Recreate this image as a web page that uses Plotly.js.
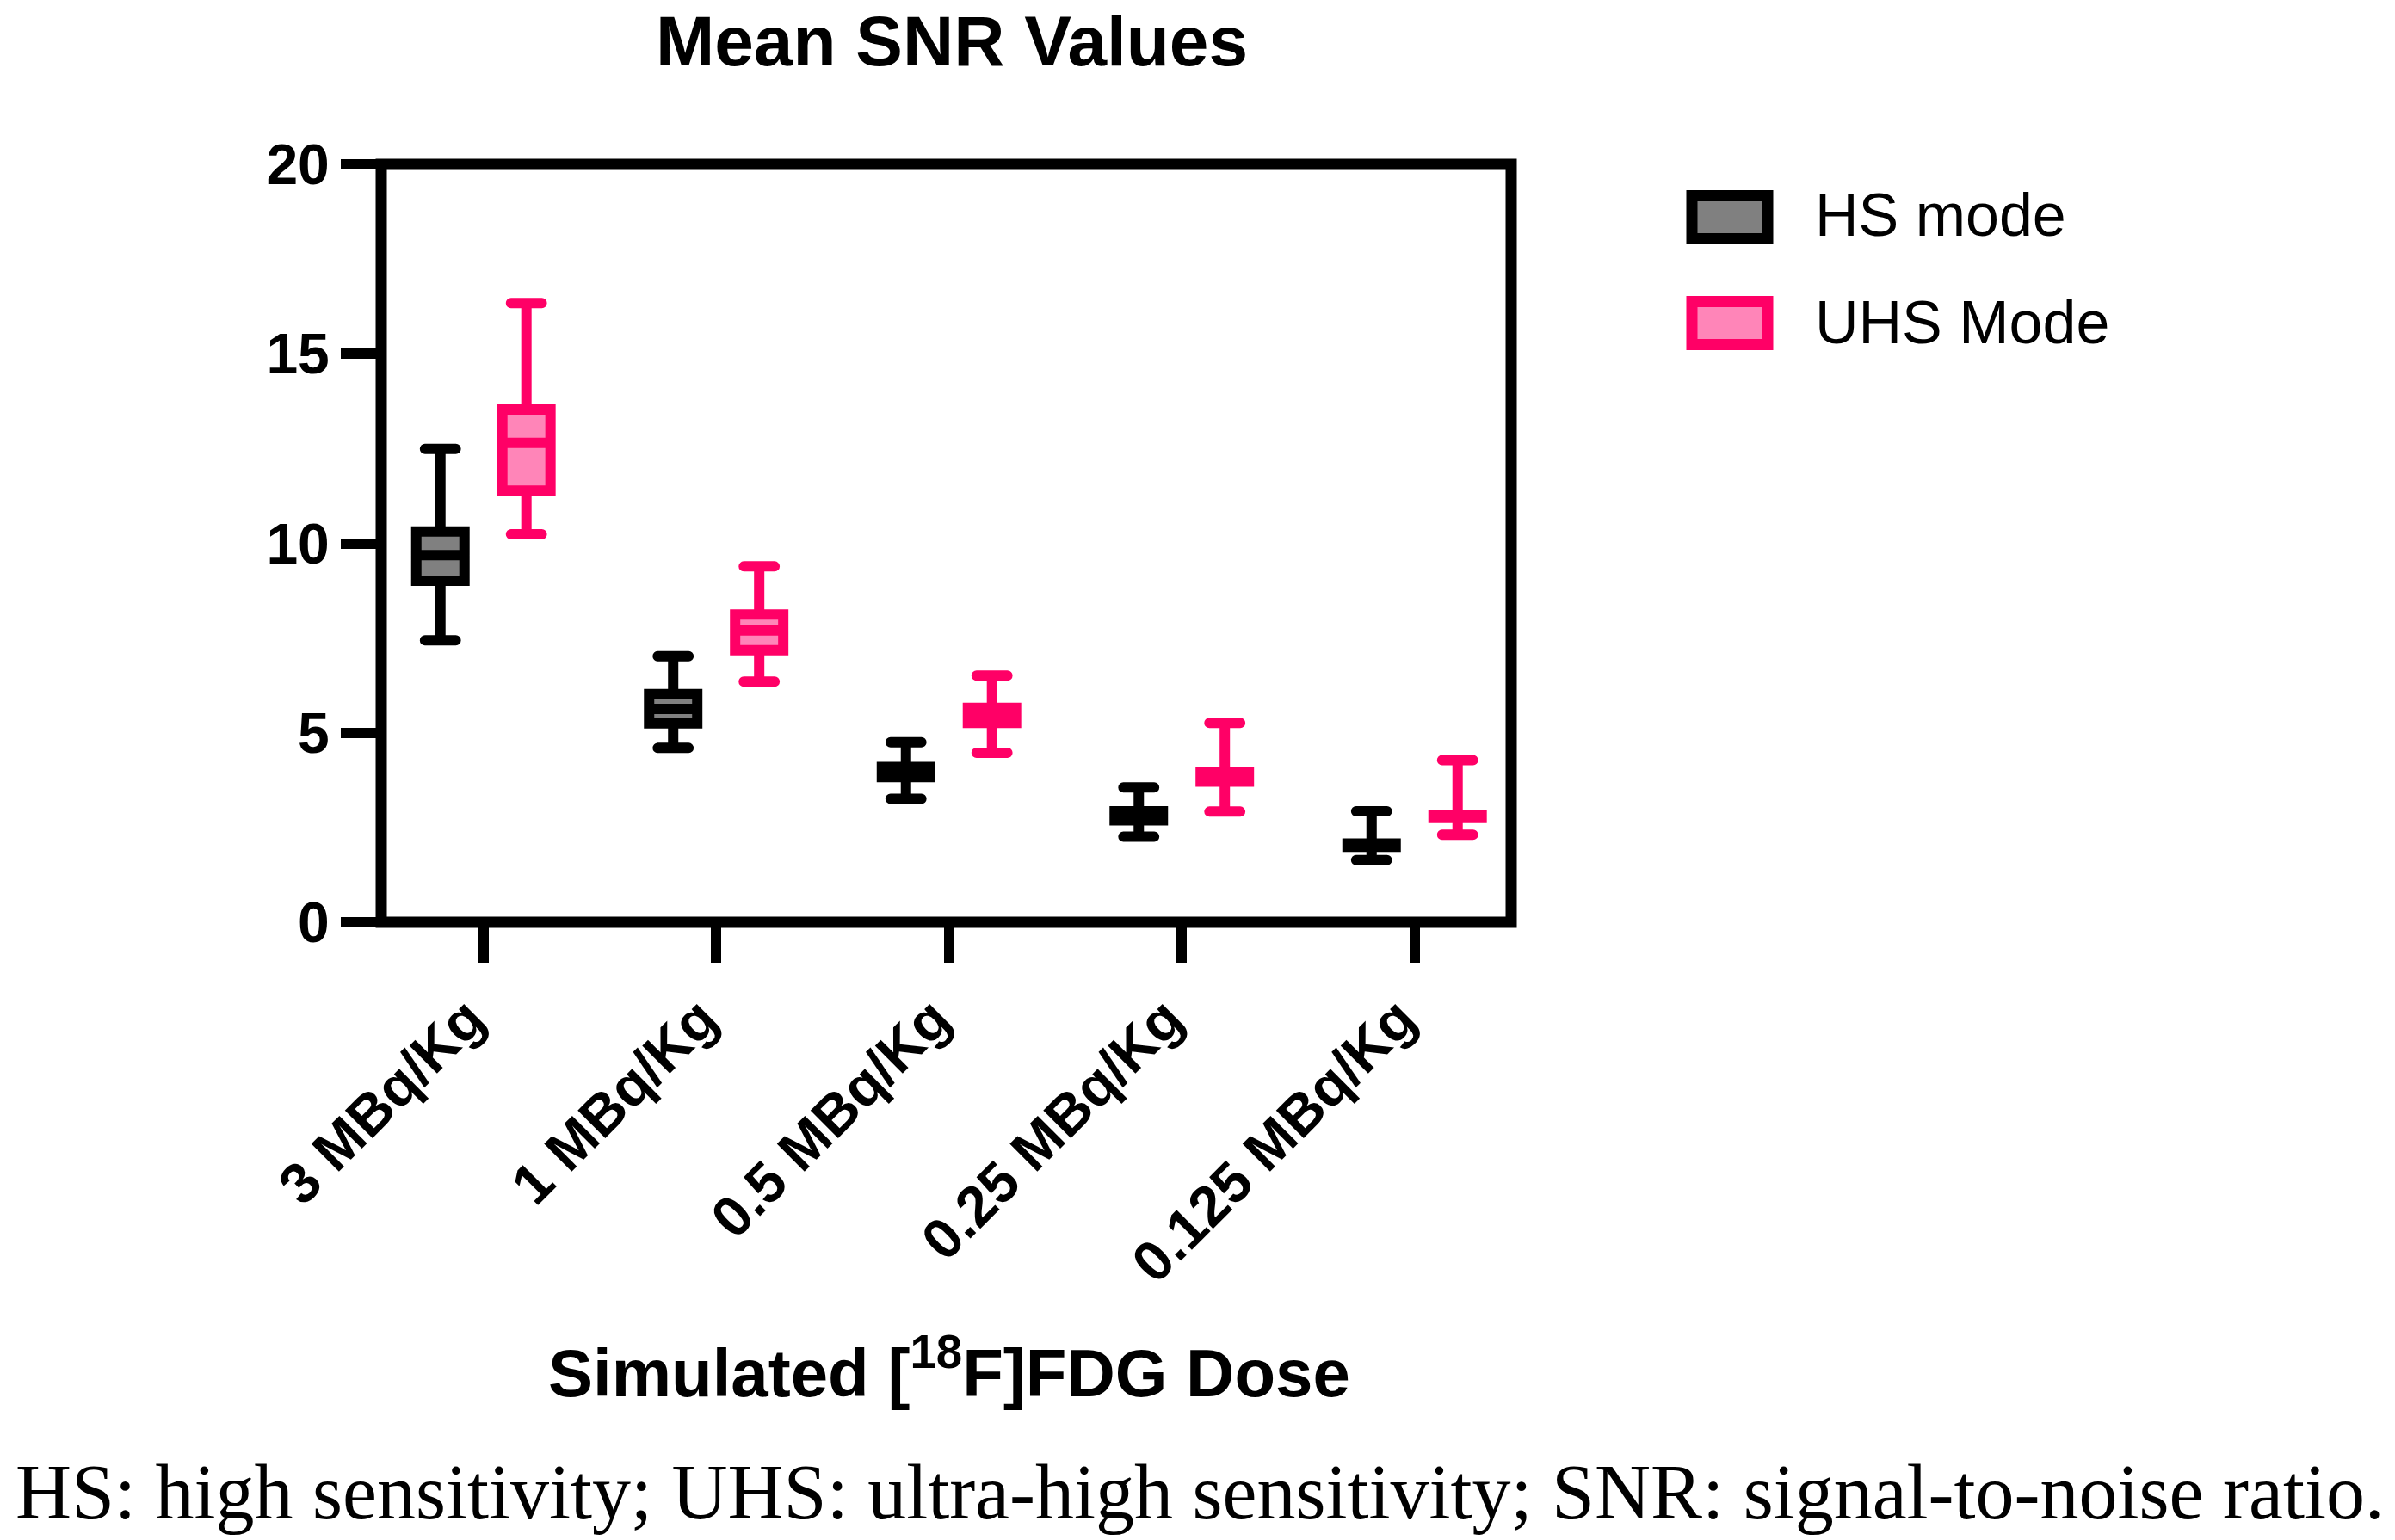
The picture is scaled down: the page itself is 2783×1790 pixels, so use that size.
<!DOCTYPE html>
<html><head><meta charset="utf-8">
<script src="https://cdn.plot.ly/plotly-3.0.1.min.js"></script>
<style>
html,body{margin:0;padding:0;background:#fff;}
#chart{width:2783px;height:1790px;}
.boxlayer path{stroke-linecap:round;}
</style></head><body><div id="chart"></div>
<script>
// ---- data ----
const categories = ['3 MBq/Kg', '1 MBq/Kg', '0.5 MBq/Kg', '0.25 MBq/Kg', '0.125 MBq/Kg'];
const seriesNames = ['HS mode', 'UHS Mode'];
const hsMin    = [7.44, 4.60, 3.26, 2.26, 1.64];
const hsQ1     = [9.01, 5.25, 3.83, 2.69, 1.99];
const hsMedian = [9.69, 5.63, 3.97, 2.81, 2.04];
const hsQ3     = [10.31, 6.02, 4.10, 2.93, 2.08];
const hsMax    = [12.49, 7.02, 4.75, 3.56, 2.93];
const uhsMin    = [10.24, 6.35, 4.47, 2.92, 2.31];
const uhsQ1     = [11.39, 7.18, 5.26, 3.71, 2.75];
const uhsMedian = [12.65, 7.70, 5.47, 3.84, 2.78];
const uhsQ3     = [13.53, 8.12, 5.66, 3.97, 2.82];
const uhsMax    = [16.34, 9.39, 6.51, 5.26, 4.28];
const yTicks = [0, 5, 10, 15, 20];
const chartTitle = 'Mean SNR Values';
const xTitle = 'Simulated [<sup>18</sup>F]FDG Dose';
const caption = 'HS: high sensitivity; UHS: ultra-high sensitivity; SNR: signal-to-noise ratio.';

// ---- geometry / style ----
const W = 2783, H = 1790;
const PL = 443, PR = 1756, PT = 191, PB = 1071.7;
const px2x = p => (p - PL) / (PR - PL);
const px2y = p => (PB - p) / (PB - PT);
const HS_LINE = '#000000', HS_FILL = '#808080';
const UHS_LINE = '#ff0066', UHS_FILL = '#ff85b8';
const SANS = 'Liberation Sans, Arial, sans-serif';

const traces = [
  {type: 'box', name: seriesNames[0], x: categories, q1: hsQ1, median: hsMedian, q3: hsQ3,
   lowerfence: hsMin, upperfence: hsMax, boxpoints: false, whiskerwidth: 0.64,
   line: {color: HS_LINE, width: 12}, fillcolor: HS_FILL, showlegend: false},
  {type: 'box', name: seriesNames[1], x: categories, q1: uhsQ1, median: uhsMedian, q3: uhsQ3,
   lowerfence: uhsMin, upperfence: uhsMax, boxpoints: false, whiskerwidth: 0.64,
   line: {color: UHS_LINE, width: 12}, fillcolor: UHS_FILL, showlegend: false}
];

const tickFont = {family: SANS, size: 66, weight: 'bold', color: '#000'};

const legendItems = [
  {name: seriesNames[0], line: HS_LINE, fill: HS_FILL, top: 227.5, bottom: 277.5, mid: 250},
  {name: seriesNames[1], line: UHS_LINE, fill: UHS_FILL, top: 350.5, bottom: 400.5, mid: 375}
];

const shapes = [
  {type: 'rect', xref: 'paper', yref: 'paper', x0: 0, x1: 1, y0: 0, y1: 1,
   line: {color: '#000', width: 13}, fillcolor: 'rgba(0,0,0,0)', layer: 'above'}
];
const annotations = [];
legendItems.forEach(it => {
  shapes.push({type: 'rect', xref: 'paper', yref: 'paper',
    x0: px2x(1966), x1: px2x(2054), y0: px2y(it.bottom), y1: px2y(it.top),
    line: {color: it.line, width: 13}, fillcolor: it.fill});
  annotations.push({xref: 'paper', yref: 'paper', x: px2x(2107), y: px2y(it.mid),
    xanchor: 'left', yanchor: 'middle', showarrow: false, text: it.name,
    font: {family: SANS, size: 70, color: '#000'}});
});
annotations.push({xref: 'paper', yref: 'paper', x: px2x(1103), y: px2y(1590),
  xanchor: 'center', yanchor: 'middle', showarrow: false, text: xTitle,
  font: {family: SANS, size: 78, weight: 'bold', color: '#000'}});
annotations.push({xref: 'paper', yref: 'paper', x: px2x(1394), y: px2y(1734),
  xanchor: 'center', yanchor: 'middle', showarrow: false, text: caption,
  font: {family: 'Liberation Serif, Times New Roman, serif', size: 90, color: '#000'}});

const layout = {
  width: W, height: H,
  margin: {l: PL, r: W - PR, t: PT, b: H - PB, pad: 0},
  paper_bgcolor: '#fff', plot_bgcolor: '#fff',
  boxmode: 'group', boxgap: 0.261, boxgroupgap: 0.44,
  title: {text: chartTitle, x: 1106 / W, xref: 'container', xanchor: 'center',
          y: 1 - 47.5 / H, yref: 'container', yanchor: 'middle',
          font: {family: SANS, size: 82, weight: 'bold', color: '#000'}},
  xaxis: {type: 'category', range: [-0.4388, 4.415], ticks: 'outside', ticklen: 46,
          tickwidth: 12, tickcolor: '#000', showline: false, showgrid: false, zeroline: false,
          tickangle: -45, tickfont: tickFont, ticklabelshift: -18, automargin: false, fixedrange: true},
  yaxis: {range: [0, 20], tickvals: yTicks, ticktext: yTicks.map(String), ticks: 'outside',
          ticklen: 46, tickwidth: 12, tickcolor: '#000', showline: false, showgrid: false,
          zeroline: false, tickfont: tickFont, automargin: false, fixedrange: true},
  shapes: shapes,
  annotations: annotations,
  showlegend: false
};

Plotly.newPlot('chart', traces, layout, {displayModeBar: false, staticPlot: true});
</script></body></html>
